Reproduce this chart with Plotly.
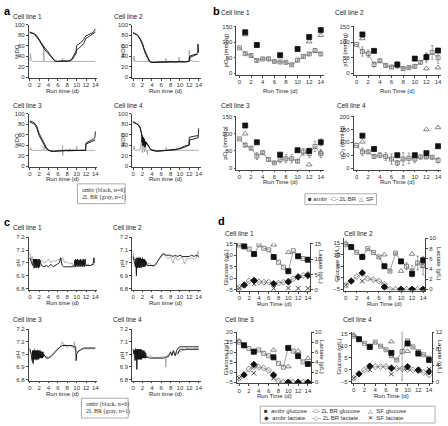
import plotly.graph_objects as go

W, H = 448, 426
FONT = "Liberation Sans, Arial, sans-serif"
SERIF = "Liberation Serif, Times New Roman, serif"

# ------------------------------------------------------------------ data
DAYS = list(range(15))
AMBR_DAYS = [1, 3, 7, 10, 12, 14]
SF_DAYS_PO2 = [1, 12, 14]
SF_DAYS_MET = [0, 3, 7, 10, 12, 14]
X_TICKS = [0, 2, 4, 6, 8, 10, 12, 14]

# ---- panel a : %DO traces (ambr = black, 2L BR = gray)
a1_black_x = [0, 0.5, 1, 1.5, 2, 2.5, 2.8, 3, 3.5, 4, 4.5, 5, 5.3, 6, 7, 8, 8.5, 9, 9.5, 9.9, 10, 10.5, 11, 11.5, 12, 12.5, 13, 13.5, 14]
a1_black_y = [86, 85, 83, 79, 72, 64, 60, 58, 53, 47, 41, 35, 31, 30, 30, 30, 31, 35, 42, 50, 60, 63, 67, 72, 79, 81, 83, 85, 92]
a1_black2_x = [0, 1, 2, 2.5, 3, 3.5, 4, 4.5, 5, 5.5, 6, 7, 8, 9, 9.5, 9.9, 10, 10.5, 11, 11.5, 12, 13, 14]
a1_black2_y = [85, 82, 70, 61, 55, 49, 44, 38, 33, 30, 30, 31, 30, 33, 40, 46, 52, 55, 59, 64, 74, 80, 86]
a1_gray_x = [0, 0.15, 0.3, 0.5, 1, 2, 2.95, 3.0, 3.05, 4, 5, 6, 6.9, 7.0, 7.1, 8, 9, 10, 11, 12, 13, 14]
a1_gray_y = [30, 45, 32, 30, 30, 30, 30, 60, 30, 30, 30, 30, 30, 36, 30, 30, 30, 30, 30, 30, 30, 30]

a2_black_x = [0, 0.5, 1, 1.5, 2, 2.3, 2.6, 3, 3.3, 3.6, 4, 5, 6, 7, 8, 9, 10, 11, 11.9, 12.1, 12.5, 13, 13.5, 13.8, 13.85, 14]
a2_black_y = [85, 83, 79, 72, 62, 52, 45, 38, 32, 29, 28, 29, 29, 29, 30, 29, 30, 29, 30, 40, 42, 43, 44, 46, 63, 47]
a2_black2_x = [0, 1, 1.5, 2, 2.3, 2.6, 3, 3.5, 4, 5, 6, 7, 8, 9, 10, 11, 12, 12.2, 13, 13.8]
a2_black2_y = [84, 80, 74, 65, 55, 48, 40, 31, 28, 28, 29, 29, 29, 29, 29, 29, 30, 38, 41, 44]
a2_gray_x = [0, 0.2, 0.35, 0.5, 1, 2, 3, 3.05, 3.1, 4, 5, 6, 6.95, 7.0, 7.05, 8, 9, 9.75, 9.8, 9.85, 10, 11, 11.9, 12.0, 12.1, 13, 14]
a2_gray_y = [30, 40, 30, 31, 30, 30, 30, 33, 30, 30, 30, 30, 30, 36, 30, 30, 30, 30, 38, 30, 30, 30, 30, 51, 32, 30, 30]

a3_black_x = [0, 0.5, 1, 1.5, 2, 2.5, 3, 3.5, 4, 4.5, 5, 6, 7, 8, 9, 10, 11, 11.9, 12, 12.5, 13, 13.5, 13.9, 14]
a3_black_y = [86, 85, 82, 76, 62, 53, 45, 36, 31, 28, 28, 29, 29, 30, 30, 30, 30, 30, 44, 46, 48, 51, 54, 66]
a3_black2_x = [0, 1, 1.5, 2, 2.5, 3, 3.5, 4, 5, 6, 8, 10, 11.9, 12, 13, 14]
a3_black2_y = [84, 80, 72, 58, 50, 42, 33, 30, 28, 29, 29, 29, 30, 42, 46, 50]
a3_gray_x = [0, 0.2, 0.4, 1, 2, 3, 3.05, 3.1, 4, 5, 6, 6.95, 7, 7.05, 7.1, 8, 8.3, 8.6, 9, 9.3, 9.6, 9.9, 10, 10.1, 11, 12, 13, 14]
a3_gray_y = [30, 35, 30, 30, 30, 30, 38, 30, 30, 30, 30, 30, 40, 20, 30, 31, 27, 33, 28, 32, 29, 31, 38, 30, 30, 30, 30, 30]

a4_black_x = [0, 0.5, 1, 1.5, 1.8, 1.9, 2.0, 2.1, 2.2, 2.3, 2.4, 2.5, 2.6, 2.7, 2.8, 3.0, 3.5, 4, 5, 6, 7, 8, 9, 10, 11, 12, 12.1, 12.5, 13, 13.5, 13.9, 14]
a4_black_y = [85, 83, 79, 75, 62, 45, 58, 38, 55, 42, 50, 36, 47, 40, 44, 42, 35, 31, 29, 29, 30, 30, 31, 33, 36, 40, 50, 51, 52, 53, 54, 72]
a4_black2_x = [0, 1, 1.5, 2, 2.2, 2.4, 2.6, 2.8, 3.2, 3.6, 4, 5, 6, 7, 8, 9, 10, 11, 11.9, 12, 13, 13.9]
a4_black2_y = [83, 80, 72, 55, 40, 52, 38, 46, 40, 33, 30, 28, 29, 30, 30, 31, 34, 38, 40, 55, 57, 58]
a4_gray_x = [0, 0.2, 0.4, 1, 1.5, 1.8, 2.0, 2.2, 2.4, 2.6, 2.8, 3, 3.05, 3.1, 4, 5, 6, 7, 7.05, 7.1, 8, 9, 10, 11, 12, 13, 14]
a4_gray_y = [30, 38, 30, 30, 31, 50, 25, 45, 27, 40, 28, 30, 22, 30, 30, 30, 30, 30, 36, 30, 30, 30, 30, 30, 30, 30, 30]

# ---- panel b : pO2 (mmHg)
b1_ambr = [132, 91, 58, 78, 117, 139]
b1_2l = [82, 63, 57, 41, 46, 46, 38, 36, 35, 27, 42, 54, 62, 73, 62]
b1_2l_err = [0, 4, 3, 4, 3, 6, 3, 3, 3, 3, 4, 5, 4, 6, 4]
b1_sf = [125, 102, 122]
b2_ambr = [125, 72, 28, 47, 52, 73]
b2_2l = [93, 70, 63, 28, 40, 25, 20, 25, 15, 18, 22, 35, 50, 67, 50]
b2_2l_err = [0, 15, 12, 8, 5, 4, 4, 10, 3, 3, 5, 5, 15, 22, 18]
b2_sf = [112, 15, 18]
b3_ambr = [124, 75, 39, 52, 50, 75]
b3_2l = [85, 67, 58, 35, 45, 25, 15, 25, 27, 27, 20, 47, 42, 63, 42]
b3_2l_err = [0, 5, 4, 10, 4, 4, 3, 10, 12, 12, 4, 10, 12, 15, 12]
b3_sf = [100, 10, 45]
b4_ambr = [126, 74, 50, 50, 58, 85]
b4_2l = [88, 63, 63, 45, 50, 45, 35, 20, 35, 38, 35, 43, 43, 42, 30]
b4_2l_err = [0, 15, 6, 6, 10, 15, 20, 10, 25, 20, 15, 8, 6, 6, 10]
b4_sf = [102, 150, 158]

# ---- panel c : pH traces
c1_black_x = [0, 0.3, 0.6, 0.8, 0.9, 1.0, 1.1, 1.2, 1.3, 1.4, 1.5, 1.6, 1.7, 1.8, 1.9, 2.0, 2.1, 2.2,
              2.5, 3.0, 3.5, 4.0, 4.5, 5.0, 5.5, 6.0, 6.3, 6.6, 6.9, 7.2, 7.5, 8.0, 8.5, 9.0, 9.5,
              9.6, 9.7, 9.8, 9.9, 10.0, 10.1, 10.2, 10.3, 10.4, 10.5, 10.6, 10.7, 10.8, 10.9, 11.0,
              11.1, 11.2, 11.3, 11.4, 11.5, 11.6, 11.7, 11.8, 12.0, 12.5, 13.0, 13.5, 13.7, 13.8]
c1_black_y = [7.04, 7.0, 6.98, 7.03, 6.96, 7.03, 6.96, 7.03, 6.97, 7.03, 6.96, 7.02, 6.97, 7.03, 6.96, 7.03, 6.97, 7.02,
              6.98, 6.97, 6.98, 6.97, 6.99, 6.97, 6.98, 6.99, 7.0, 7.04, 6.98, 6.97, 6.97, 6.97, 6.97, 6.97, 6.98,
              7.02, 6.97, 7.03, 6.98, 7.02, 6.97, 7.03, 6.98, 7.02, 6.97, 7.02, 6.98, 7.03, 6.97, 7.02,
              6.98, 7.02, 6.97, 7.03, 6.98, 7.02, 6.97, 7.03, 6.98, 6.98, 6.98, 6.99, 7.04, 7.0]
c1_gray_x = [0, 0.1, 0.3, 0.5, 0.7, 1, 1.3, 1.6, 2, 2.5, 3, 3.5, 4, 4.5, 5, 5.5, 6, 6.5, 7, 7.5, 8, 8.5,
             9, 9.5, 10, 10.5, 11, 11.5, 12, 12.5, 13, 13.5, 14]
c1_gray_y = [7.08, 7.06, 7.02, 7.05, 7.0, 7.03, 7.0, 7.03, 7.01, 7.02, 7.0, 7.01, 7.03, 7.0, 7.02, 7.01, 7.03,
             7.02, 7.04, 7.0, 7.01, 6.99, 7.0, 6.96, 7.0, 6.98, 7.01, 6.99, 6.98, 6.99, 6.98, 6.99, 6.98]

c2_black_x = [0, 0.3, 0.5, 0.6, 0.7, 0.8, 0.9, 1.0, 1.1, 1.2, 1.3, 1.4, 1.5, 1.6, 1.7, 1.8, 1.9, 2.0,
              2.1, 2.2, 2.3, 2.4, 2.5, 2.6, 2.7, 2.8, 3.0, 3.5, 4.0, 4.5, 5.0, 5.5, 6.0, 6.3, 6.6,
              7.0, 7.5, 8.0, 8.5, 9.0, 9.5, 10, 10.5, 11, 11.5, 12, 12.5, 13, 13.5, 14]
c2_black_y = [7.05, 7.0, 6.97, 7.03, 6.9, 7.04, 6.96, 7.04, 6.97, 7.04, 6.96, 7.04, 6.97, 7.04, 6.96, 7.03, 6.97, 7.04,
              6.97, 7.03, 6.97, 7.03, 6.97, 7.02, 6.98, 7.01, 6.98, 6.98, 6.98, 6.98, 7.0, 7.03, 7.06, 7.07, 7.07,
              7.06, 7.06, 7.06, 7.05, 7.06, 7.05, 7.06, 7.05, 7.05, 7.05, 7.05, 7.06, 7.05, 7.06, 7.05]
c2_gray_x = [0, 0.2, 0.4, 0.7, 1, 1.5, 2, 2.5, 3, 3.5, 4, 4.5, 5, 5.5, 6, 6.5, 7, 7.5, 8, 8.5, 9, 9.5,
             10, 10.5, 11, 11.5, 12, 12.5, 13, 13.5, 13.8, 14]
c2_gray_y = [7.08, 7.02, 7.04, 6.95, 7.0, 7.01, 7.0, 7.0, 6.99, 7.0, 6.98, 6.97, 6.99, 7.03, 7.05, 7.07, 7.05,
             7.03, 7.05, 7.0, 7.05, 7.02, 7.03, 7.05, 6.99, 7.04, 7.03, 7.04, 7.03, 7.04, 7.09, 7.04]

c3_black_x = [0, 0.3, 0.5, 0.6, 0.7, 0.8, 0.9, 1.0, 1.1, 1.2, 1.3, 1.4, 1.5, 1.6, 1.7, 1.8, 1.9, 2.0,
              2.1, 2.2, 2.3, 2.4, 2.5, 2.6, 2.7, 2.8, 2.9, 3.0, 3.5, 4.0, 4.5, 5.0, 5.5, 6.0, 6.5, 7.0,
              7.5, 8.0, 8.5, 9.0, 9.5, 9.8, 9.9, 10.0, 10.3, 10.6, 11, 11.5, 12, 12.5, 13, 13.5, 14]
c3_black_y = [7.04, 7.0, 6.95, 7.03, 6.93, 7.03, 6.96, 7.03, 6.96, 7.03, 6.96, 7.03, 6.96, 7.03, 6.96, 7.03, 6.96, 7.03,
              6.97, 7.03, 6.97, 7.02, 6.97, 7.02, 6.97, 7.02, 6.98, 7.0, 6.97, 6.97, 6.98, 7.0, 7.02, 7.04, 7.06, 7.07,
              7.07, 7.07, 7.07, 7.07, 7.06, 7.06, 6.95, 7.0, 7.02, 7.03, 7.04, 7.05, 7.05, 7.05, 7.05, 7.05, 7.05]
c3_gray_x = [0, 0.2, 0.5, 0.7, 1, 1.3, 1.6, 2, 2.5, 3, 3.5, 4, 4.5, 5, 5.5, 6, 6.5, 6.8, 7, 7.3, 7.6, 8,
             8.5, 9, 9.4, 9.5, 9.6, 10, 10.5, 11, 11.5, 12, 12.5, 13, 13.5, 14]
c3_gray_y = [7.05, 7.02, 6.99, 6.92, 7.05, 6.95, 7.04, 6.97, 7.02, 6.99, 6.98, 6.98, 6.99, 7.01, 7.03, 7.05,
             7.06, 7.08, 7.1, 7.06, 7.08, 7.05, 7.07, 7.06, 7.05, 7.1, 7.04, 7.02, 7.03, 7.04, 7.04, 7.05,
             7.04, 7.05, 7.04, 7.05]

c4_black_x = [0, 0.2, 0.3, 0.4, 0.5, 0.6, 0.7, 0.8, 0.9, 1.0, 1.1, 1.2, 1.3, 1.4, 1.5, 1.6, 1.7, 1.8,
              1.9, 2.0, 2.1, 2.2, 2.3, 2.4, 2.5, 2.6, 2.7, 2.8, 3.0, 3.5, 4, 4.5, 5, 5.5, 6, 6.5, 7,
              7.5, 8, 8.3, 8.6, 9, 9.3, 9.6, 10, 10.5, 11, 11.5, 12, 12.5, 13, 13.5, 14]
c4_black_y = [7.04, 7.0, 7.03, 6.95, 7.04, 6.96, 7.04, 6.88, 7.04, 6.96, 7.04, 6.96, 7.04, 6.96, 7.04, 6.96, 7.04, 6.96,
              7.03, 6.97, 7.03, 6.97, 7.03, 6.97, 7.02, 6.97, 7.01, 6.97, 6.98, 6.97, 6.97, 6.97, 6.97, 6.97, 6.97, 6.97, 6.98,
              6.98, 7.02, 6.99, 7.03, 6.99, 7.03, 7.05, 7.06, 7.06, 7.06, 7.06, 7.06, 7.06, 7.06, 7.06, 7.06]
c4_black2_x = [9.5, 10, 11, 12, 13, 14]
c4_black2_y = [7.0, 7.04, 7.04, 7.04, 7.04, 7.04]
c4_gray_x = [0, 0.2, 0.5, 0.8, 1, 1.3, 1.6, 2, 2.5, 3, 3.5, 4, 4.5, 5, 5.5, 6, 6.5, 6.9, 7.0, 7.1, 7.5, 8,
             8.5, 9, 9.5, 10, 10.5, 11, 11.5, 12, 12.5, 13, 13.5, 14]
c4_gray_y = [7.03, 7.01, 7.05, 6.95, 7.02, 6.97, 7.04, 6.99, 7.0, 6.98, 6.99, 6.98, 6.97, 6.98, 6.97, 6.98,
             6.98, 6.97, 6.9, 6.98, 7.0, 7.0, 7.02, 6.99, 7.02, 7.02, 7.03, 7.03, 7.05, 7.04, 7.04, 7.04, 7.05, 7.04]

# ---- panel d : glucose / lactate (g/L)
d1_ambr_glc = [13.9, 10.6, 9.3, 3.1, 9.6, 8.1]
d1_2l_glc = [14.5, 13.9, 12.7, 10.3, 14.6, 13.1, 12.4, 9.4, 7.0, 4.9, 3.1, 12.0, 9.6, 8.6, 8.1]
d1_sf_glc = [14.8, 10.5, 14.6, 11.3, 9.5, 7.8]
d1_ambr_lac = [1.6, 3.1, 2.0, 2.6, 4.2, 4.7]
d1_2l_lac = [0.8, 1.6, 2.9, 3.0, 2.6, 2.5, 2.5, 2.0, 2.2, 2.5, 2.9, 3.6, 4.3, 4.7, 5.1]
d1_sf_lac = [0.6, 2.0, 0.5, 0.6, 0.5, 0.5]

d2_ambr_glc = [13.3, 9.0, 5.0, 7.1, 1.7, 7.6]
d2_2l_glc = [14.3, 13.3, 11.0, 9.0, 12.6, 11.0, 9.0, 5.0, 2.9, 10.7, 7.1, 5.0, 2.9, 6.4, 5.3]
d2_2l_glc_err = [0, 0, 0, 0, 0, 0, 0, 0, 0, 0, 0, 1.5, 2.5, 3.0, 4.0]
d2_sf_glc = [15.0, 9.5, 10.0, 2.9, 10.3, 5.0]
d2_ambr_lac = [1.6, 3.2, 0.45, 0, 0, 0]
d2_2l_lac = [0.8, 1.6, 2.5, 3.2, 2.1, 1.9, 1.6, 1.0, 0, 0, 0, 0, 0, 0, 0]
d2_sf_lac = [0.8, 1.6, 0.5, 0, 0, 0]

d3_ambr_glc = [13.4, 10.2, 7.4, 12.1, 8.0, 4.1]
d3_2l_glc = [15.0, 13.4, 11.8, 10.2, 11.1, 9.4, 8.2, 7.4, 4.4, 2.5, 12.1, 10.5, 8.0, 5.1, 4.1]
d3_sf_glc = [15.5, 10.5, 11.1, 2.8, 10.5, 6.9]
d3_ambr_lac = [1.45, 3.55, 1.45, 0, 0, 0]
d3_2l_lac = [0.8, 1.45, 2.6, 3.1, 3.0, 2.8, 2.4, 1.25, 0.25, 0, 0, 0, 0, 0, 0]
d3_sf_lac = [0.8, 1.8, 0.8, 0, 0, 0]

d4_ambr_glc = [12.7, 9.5, 7.0, 10.9, 6.7, 4.0]
d4_2l_glc = [14.0, 13.0, 11.0, 9.5, 11.5, 9.8, 8.3, 5.8, 4.0, 7.6, 12.0, 9.5, 7.5, 6.2, 4.8]
d4_2l_glc_err = [0, 0, 0, 0, 0, 0, 0, 0, 0, 12, 0, 0, 0, 0, 0]
d4_sf_glc = [14.5, 9.8, 11.7, 7.7, 7.0, 4.5]
d4_ambr_lac = [1.85, 3.75, 3.2, 3.6, 2.8, 2.4]
d4_ambr_lac_err = [0.2, 0.3, 0.4, 0.5, 0.5, 0.6]
d4_2l_lac = [0.8, 1.85, 2.8, 3.5, 3.6, 3.6, 3.6, 3.4, 3.2, 3.1, 2.9, 2.8, 2.6, 2.2, 1.6]
d4_sf_lac = [0.8, 2.8, 1.8, 3.2, 2.8, 3.0]

# ------------------------------------------------------------------ helpers
def lin_range(v0, p0, v1, p1, pa, pb):
    s = (v1 - v0) / (p1 - p0)
    return [v0 + (pa - p0) * s, v0 + (pb - p0) * s]

def xname(n):
    return "x" if n == 1 else f"x{n}"

def yname(n):
    return "y" if n == 1 else f"y{n}"

def xkey(n):
    return "xaxis" if n == 1 else f"xaxis{n}"

def ykey(n):
    return "yaxis" if n == 1 else f"yaxis{n}"

AX = dict(showline=True, linecolor="#444", linewidth=0.8, ticks="outside", ticklen=2,
          tickwidth=0.8, tickcolor="#444", showgrid=False, zeroline=False, fixedrange=True,
          tickfont=dict(size=6, family=FONT, color="#333"))

layout = dict(width=W, height=H, margin=dict(l=0, r=0, t=0, b=0), showlegend=False,
              plot_bgcolor="white", paper_bgcolor="white", font=dict(family=FONT))
annotations = []
shapes = []
traces = []

def add_panel(n, xl, xr, x0p, x14p, ytop, ybot, ycal, yticks, yticktext=None):
    xr_ = lin_range(0, x0p, 14, x14p, xl, xr)
    layout[xkey(n)] = dict(AX, domain=[xl / W, xr / W], range=xr_, anchor=yname(n),
                           tickvals=X_TICKS, ticklabelstandoff=-1)
    (v0, p0), (v1, p1) = ycal
    yr_ = lin_range(v0, p0, v1, p1, ybot, ytop)
    yd = dict(AX, domain=[1 - ybot / H, 1 - ytop / H], range=yr_, anchor=xname(n), tickvals=yticks)
    if yticktext:
        yd["ticktext"] = yticktext
    layout[ykey(n)] = yd

def add_right(n_main, n_sec, ytop, ybot, ycal, yticks):
    (v0, p0), (v1, p1) = ycal
    layout[ykey(n_sec)] = dict(AX, range=lin_range(v0, p0, v1, p1, ybot, ytop), overlaying=yname(n_main),
                               side="right", anchor=xname(n_main), tickvals=yticks)

def ann(text, x, y, size=6.5, xanchor="left", yanchor="middle", angle=0, family=FONT, color="#222"):
    annotations.append(dict(text=text, x=x / W, y=1 - y / H, xref="paper", yref="paper",
                            xanchor=xanchor, yanchor=yanchor, textangle=angle, showarrow=False,
                            font=dict(size=size, family=family, color=color)))

def box(x0, y0, x1, y1):
    shapes.append(dict(type="rect", xref="paper", yref="paper", x0=x0 / W, x1=x1 / W,
                       y0=1 - y1 / H, y1=1 - y0 / H, line=dict(color="#999", width=0.8)))

def line_tr(n, x, y, color, width=0.8, yn=None):
    traces.append(go.Scatter(x=x, y=y, mode="lines", line=dict(color=color, width=width),
                             xaxis=xname(n), yaxis=yname(yn or n), hoverinfo="skip"))

def mk_tr(n, x, y, symbol, color, size=5, mode="markers", err=None, yn=None, lw=0.8, lcolor="#777"):
    kw = {}
    if err is not None:
        kw["error_y"] = dict(type="data", array=err, visible=True, color="#666", thickness=0.6, width=1.2)
    traces.append(go.Scatter(x=x, y=y, mode=mode, xaxis=xname(n), yaxis=yname(yn or n),
                             marker=dict(symbol=symbol, size=size, color=color,
                                         line=dict(color=color, width=lw)),
                             line=dict(color=lcolor, width=0.7), **kw))

GRAY = "#a6a6a6"
BLACK = "#111"
OPEN = "#666"

# ------------------------------------------------------------------ panel a
a_specs = [
    (1, 28, 97, 29, 95, 22, 76, [(0, 75), (100, 22)]),
    (2, 132, 201, 133, 199, 22, 76, [(0, 75), (100, 22)]),
    (3, 28, 97, 29, 95, 112, 166, [(0, 165), (100, 112)]),
    (4, 132, 201, 133, 199, 112, 166, [(0, 165), (100, 112)]),
]
a_data = [
    (a1_black_x, a1_black_y, a1_black2_x, a1_black2_y, a1_gray_x, a1_gray_y),
    (a2_black_x, a2_black_y, a2_black2_x, a2_black2_y, a2_gray_x, a2_gray_y),
    (a3_black_x, a3_black_y, a3_black2_x, a3_black2_y, a3_gray_x, a3_gray_y),
    (a4_black_x, a4_black_y, a4_black2_x, a4_black2_y, a4_gray_x, a4_gray_y),
]
for (n, xl, xr, x0p, x14p, yt, yb, cal), (bx, by, bx2, by2, gx, gy) in zip(a_specs, a_data):
    add_panel(n, xl, xr, x0p, x14p, yt, yb, cal, [0, 20, 40, 60, 80, 100])
    line_tr(n, gx, gy, GRAY, 0.9)
    line_tr(n, bx2, by2, BLACK, 0.9)
    line_tr(n, bx, by, BLACK, 0.9)

# ------------------------------------------------------------------ panel b
b_specs = [
    (5, 237, 325, 240, 322, 23, 72.5, [(0, 71), (150, 24)], [0, 50, 100, 150]),
    (6, 355, 443, 358, 440, 23, 72.5, [(0, 71), (150, 24)], [0, 50, 100, 150]),
    (7, 237, 325, 240, 322, 114, 168.5, [(0, 167), (150, 115)], [0, 50, 100, 150]),
    (8, 355, 443, 358, 440, 114, 168.5, [(0, 167), (200, 115)], [0, 50, 100, 150, 200]),
]
b_data = [
    (b1_ambr, b1_2l, b1_2l_err, b1_sf, [0, 0, 0, 0, 0, 0]),
    (b2_ambr, b2_2l, b2_2l_err, b2_sf, [0, 0, 8, 0, 12, 0]),
    (b3_ambr, b3_2l, b3_2l_err, b3_sf, [0, 0, 0, 0, 8, 10]),
    (b4_ambr, b4_2l, b4_2l_err, b4_sf, [0, 0, 0, 0, 0, 0]),
]
for (n, xl, xr, x0p, x14p, yt, yb, cal, yt_), (am, tl, tle, sf, ame) in zip(b_specs, b_data):
    add_panel(n, xl, xr, x0p, x14p, yt, yb, cal, yt_)
    mk_tr(n, DAYS, tl, "square-open", OPEN, size=4, mode="lines+markers", err=tle)
    mk_tr(n, SF_DAYS_PO2, sf, "triangle-up-open", OPEN, size=5)
    mk_tr(n, AMBR_DAYS, am, "square", BLACK, size=5, err=ame)

# ------------------------------------------------------------------ panel c
ph_ticks = [6.8, 6.9, 7.0, 7.1, 7.2]
ph_text = ["6.8", "6.9", "7", "7.1", "7.2"]
c_specs = [
    (9, 28, 97, 29, 95, 237, 290, [(6.8, 289), (7.2, 237)]),
    (10, 132, 201, 133, 199, 237, 290, [(6.8, 289), (7.2, 237)]),
    (11, 28, 97, 29, 95, 330, 382, [(6.8, 381), (7.2, 330)]),
    (12, 132, 201, 133, 199, 330, 382, [(6.8, 381), (7.2, 330)]),
]
c_data = [
    (c1_black_x, c1_black_y, None, None, c1_gray_x, c1_gray_y),
    (c2_black_x, c2_black_y, None, None, c2_gray_x, c2_gray_y),
    (c3_black_x, c3_black_y, None, None, c3_gray_x, c3_gray_y),
    (c4_black_x, c4_black_y, c4_black2_x, c4_black2_y, c4_gray_x, c4_gray_y),
]
for (n, xl, xr, x0p, x14p, yt, yb, cal), (bx, by, bx2, by2, gx, gy) in zip(c_specs, c_data):
    add_panel(n, xl, xr, x0p, x14p, yt, yb, cal, ph_ticks, ph_text)
    line_tr(n, gx, gy, GRAY, 0.9)
    if bx2:
        line_tr(n, bx2, by2, BLACK, 0.9)
    line_tr(n, bx, by, BLACK, 0.9)

# ------------------------------------------------------------------ panel d
d_specs = [
    (13, 17, 237.5, 311.5, 240, 309, 243, 291.5, [(-5, 290.3), (15, 243.7)], [-5, 0, 5, 10, 15],
     [(0, 290.3), (15, 243.7)], [0, 5, 10, 15]),
    (14, 18, 345.5, 427, 347, 425, 237.5, 291, [(-5, 289.7), (15, 243)], [-5, 0, 5, 10, 15],
     [(0, 289.7), (10, 238)], [0, 2, 4, 6, 8, 10]),
    (15, 19, 237.5, 312, 239.7, 309, 332.5, 385, [(-5, 383.7), (20, 333)], [-5, 0, 5, 10, 15, 20],
     [(0, 383.7), (10, 333)], [0, 2, 4, 6, 8, 10]),
    (16, 20, 353, 433.5, 355, 431, 332.5, 384.5, [(-5, 383), (15, 334.7)], [-5, 0, 5, 10, 15],
     [(0, 383), (12, 333)], [0, 4, 8, 12]),
]
d_data = [
    (d1_ambr_glc, d1_2l_glc, None, d1_sf_glc, d1_ambr_lac, None, d1_2l_lac, d1_sf_lac),
    (d2_ambr_glc, d2_2l_glc, d2_2l_glc_err, d2_sf_glc, d2_ambr_lac, None, d2_2l_lac, d2_sf_lac),
    (d3_ambr_glc, d3_2l_glc, None, d3_sf_glc, d3_ambr_lac, None, d3_2l_lac, d3_sf_lac),
    (d4_ambr_glc, d4_2l_glc, d4_2l_glc_err, d4_sf_glc, d4_ambr_lac, d4_ambr_lac_err, d4_2l_lac, d4_sf_lac),
]
for (n, ns, xl, xr, x0p, x14p, yt, yb, cal, yt_, calr, ytr), \
        (ag, tg, tge, sg, al, ale, tl, sl) in zip(d_specs, d_data):
    add_panel(n, xl, xr, x0p, x14p, yt, yb, cal, yt_)
    add_right(n, ns, yt, yb, calr, ytr)
    mk_tr(n, DAYS, tg, "square-open", OPEN, size=4, mode="lines+markers", err=tge)
    mk_tr(n, DAYS, tl, "diamond-open", OPEN, size=4.5, mode="lines+markers", yn=ns)
    mk_tr(n, SF_DAYS_MET, sg, "triangle-up-open", OPEN, size=5)
    mk_tr(n, SF_DAYS_MET, sl, "x-thin-open", "#444", size=4.5, yn=ns, lw=1)
    mk_tr(n, AMBR_DAYS, ag, "square", BLACK, size=5)
    mk_tr(n, AMBR_DAYS, al, "diamond", BLACK, size=5, yn=ns, err=ale)

# ------------------------------------------------------------------ text
ann("<b>a</b>", 1, 8, size=11, color="#000")
ann("<b>b</b>", 211, 8, size=11, color="#000")
ann("<b>c</b>", 1, 222, size=11, color="#000")
ann("<b>d</b>", 216, 221, size=11, color="#000")

titles = [
    ("Cell line 1", 10, 14), ("Cell line 2", 112, 14), ("Cell line 3", 10, 104), ("Cell line 4", 112, 104),
    ("Cell line 1", 219, 10), ("Cell line 2", 334, 10), ("Cell line 3", 219, 104), ("Cell line 4", 336, 104),
    ("Cell line 1", 10, 227), ("Cell line 2", 111, 227), ("Cell line 3", 10, 320), ("Cell line 4", 111, 320),
    ("Cell line 1", 223, 233), ("Cell line 2", 343, 233), ("Cell line 3", 223, 320), ("Cell line 4", 342, 320),
]
for t, x, y in titles:
    ann(t, x, y, size=6.5)

for x, y in [(16, 48.5), (123, 48.5), (16, 138.5), (123, 138.5)]:
    ann("%DO", x, y, size=6, xanchor="center", angle=-90)
for x, y in [(62, 89.5), (166, 89.5), (62, 178), (166, 178)]:
    ann("Run time (d)", x, y, size=6, xanchor="center")
for x, y in [(226, 47.5), (346, 47.5), (226, 141), (344, 141)]:
    ann("pO₂ (mmHg)", x, y, size=6, xanchor="center", angle=-90)
for x, y in [(281, 89.5), (399, 89.5), (281, 181), (399, 181)]:
    ann("Run Time (d)", x, y, size=6, xanchor="center")
for x, y in [(17, 263), (122, 263), (17, 356), (122, 356)]:
    ann("pH", x, y, size=6, xanchor="center", angle=-90)
for x, y in [(62, 304), (166, 304), (62, 396), (166, 396)]:
    ann("Run time (d)", x, y, size=6, xanchor="center")
for x, y in [(226, 267), (338, 264), (226, 358), (340, 358)]:
    ann("Glucose (g/L)", x, y, size=6, xanchor="center", angle=-90)
for x, y in [(322, 267), (441, 264), (323, 358), (442, 358)]:
    ann("Lactate (g/L)", x, y, size=6, xanchor="center", angle=90)
for x, y in [(275, 305), (386, 305), (275, 398), (393, 398)]:
    ann("Run Time (d)", x, y, size=6, xanchor="center")

# legends a and c (text boxes)
box(77, 183, 125, 203)
ann("ambr (black, n=6)", 80, 189.5, size=6, family=SERIF, color="#333")
ann("2L BR (gray, n=1)", 80, 196.5, size=6, family=SERIF, color="#333")
box(81, 400, 128, 420)
ann("ambr (black, n=6)", 84, 406, size=6, family=SERIF, color="#333")
ann("2L BR (gray, n=1)", 84, 413, size=6, family=SERIF, color="#333")

# legend b
box(306, 193, 378, 204)
ann("■ ambr  -□- 2L BR  △ SF", 342, 198.5, size=6, xanchor="center", color="#333")

# legend d
box(261, 408, 437, 425)
ann("■  ambr glucose", 263, 412.5, size=6, color="#333")
ann("-□- 2L BR glucose", 311, 412.5, size=6, color="#333")
ann("△  SF glucose", 367, 412.5, size=6, color="#333")
ann("◆  ambr lactate", 263, 420, size=6, color="#333")
ann("-◇- 2L BR lactate", 311, 420, size=6, color="#333")
ann("✕  SF lactate", 367, 420, size=6, color="#333")

layout["annotations"] = annotations
layout["shapes"] = shapes

fig = go.Figure(data=traces, layout=layout)
fig.write_html("out.html", config={"displayModeBar": False},
               post_script="document.body.style.margin='0';document.body.style.overflow='hidden';")
